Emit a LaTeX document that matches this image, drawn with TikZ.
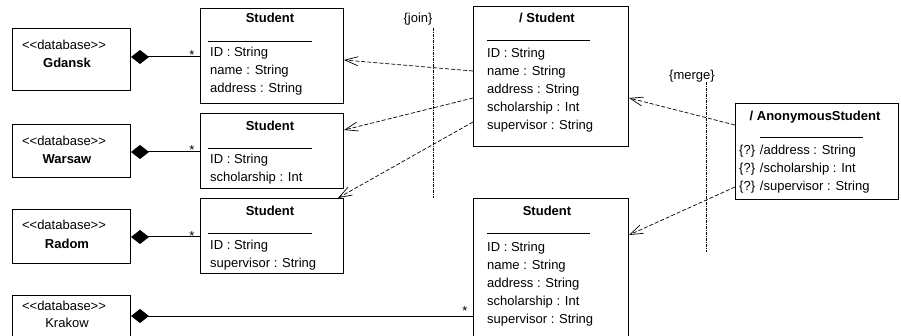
\documentclass[tikz,border=0pt]{standalone}
\usepackage{fontspec}
\setmainfont{Liberation Sans}
\usetikzlibrary{arrows.meta}
\newcommand\dbst{<\kern0pt<database>\kern0pt>}
\begin{document}
\begin{tikzpicture}[x=1pt,y=-1pt, font=\fontsize{13}{18}\selectfont,
  box/.style={draw, line width=1pt, inner sep=0pt, anchor=north west},
  ttl/.style={font=\fontsize{13}{18}\selectfont\bfseries, inner sep=0pt, anchor=base},
  txt/.style={inner sep=0pt, anchor=base},
  attrs/.style={inner sep=0pt, anchor=north west, align=left},
  sep/.style={line width=0.6pt},
  comp/.style={line width=1pt, {Diamond[length=18pt,width=14pt]}-},
  dep/.style={line width=0.7pt, dash pattern=on 4pt off 2pt, -{Straight Barb[length=13pt,width=9pt]}},
  cstr/.style={line width=0.6pt, dash pattern=on 3pt off 1pt on 1pt off 1pt},
  ]
\clip (0,0) rectangle (901,336);
% database boxes
\node[box, minimum width=118pt, minimum height=62pt] (g) at (12,28) {};
\node[box, minimum width=118pt, minimum height=53pt] (w) at (12,124) {};
\node[box, minimum width=118pt, minimum height=54pt] (r) at (12,209) {};
\node[box, minimum width=118pt, minimum height=70pt] (k) at (12,295) {};
\node[txt] (gst) at (64,49.7) {\dbst};
\node[ttl] (gnm) at (67,67.7) {Gdansk};
\node[txt] (wst) at (64,145.2) {\dbst};
\node[ttl] (wnm) at (67,163.2) {Warsaw};
\node[txt] (rst) at (64,229.7) {\dbst};
\node[ttl] (rnm) at (67,248.2) {Radom};
\node[txt] (kst) at (64,310.7) {\dbst};
\node[txt] (knm) at (67,327.7) {Krakow};
% student classes
\node[box, minimum width=143pt, minimum height=95pt] (s1) at (200,8) {};
\node[box, minimum width=143pt, minimum height=75pt] (s2) at (200,113) {};
\node[box, minimum width=143pt, minimum height=75pt] (s3) at (200,198) {};
\node[box, minimum width=155pt, minimum height=140pt] (ds) at (473,6) {};
\node[box, minimum width=155pt, minimum height=170pt] (sb) at (473,198) {};
\node[box, minimum width=163pt, minimum height=96pt] (an) at (735,103) {};
\node[ttl] (s1t) at (270,22.7) {Student};
\node[ttl] (s2t) at (270,130.7) {Student};
\node[ttl] (s3t) at (270,215.7) {Student};
\node[ttl] (dst) at (547,22.7) {/ Student};
\node[ttl] (sbt) at (547,215.7) {Student};
\node[ttl] (ant) at (815,120.7) {/ AnonymousStudent};
\draw[sep] (208,41) -- (312,41);
\draw[sep] (208,148) -- (312,148);
\draw[sep] (208,233) -- (312,233);
\draw[sep] (487,40) -- (590,40);
\draw[sep] (487,233) -- (590,233);
\draw[sep] (760,137) -- (863,137);
\node[attrs] (s1a) at (210,47.3) {ID : String\\name : String\\address : String};
\node[attrs] (s2a) at (210,154.3) {ID : String\\scholarship : Int};
\node[attrs] (s3a) at (210,240.3) {ID : String\\supervisor : String};
\node[attrs] (dsa) at (487,48.3) {ID : String\\name : String\\address : String\\scholarship : Int\\supervisor : String};
\node[attrs] (sba) at (487,242.3) {ID : String\\name : String\\address : String\\scholarship : Int\\supervisor : String};
\node[attrs] (ana) at (739,145.3) {\{?\} /address : String\\\{?\} /scholarship : Int\\\{?\} /supervisor : String};
% compositions
\coordinate (gc) at ([yshift=-29pt]g.north east);
\coordinate (wc) at ([yshift=-28pt]w.north east);
\coordinate (rc) at ([yshift=-28pt]r.north east);
\coordinate (kc) at ([yshift=-21pt]k.north east);
\draw[comp] (gc) -- (gc -| s1.west);
\draw[comp] (wc) -- (wc -| s2.west);
\draw[comp] (rc) -- (rc -| s3.west);
\draw[comp] (kc) -- (kc -| sb.west);
\node[txt] (m1) at (192,59.5) {*};
\node[txt] (m2) at (192,154.5) {*};
\node[txt] (m3) at (192,240.5) {*};
\node[txt] (m4) at (465,315.5) {*};
% dependencies
\draw[dep] ([yshift=-65pt]ds.north west) -- ([yshift=-52pt]s1.north east);
\draw[dep] ([yshift=-92pt]ds.north west) -- ([yshift=-17pt]s2.north east);
\draw[dep] ([yshift=-116pt]ds.north west) -- ([xshift=-6pt]s3.north east);
\draw[dep] ([yshift=-22pt]an.north west) -- ([yshift=-92pt]ds.north east);
\draw[dep] ([yshift=-84pt]an.north west) -- ([yshift=-37pt]sb.north east);
% constraints
\node[txt] (jn) at (418,22.5) {\{join\}};
\node[txt] (mg) at (692,79.5) {\{merge\}};
\coordinate (j1) at (433,28);
\coordinate (j2) at (433,198);
\coordinate (g1) at (706,82);
\coordinate (g2) at (706,252);
\draw[cstr] (j1) -- (j2);
\draw[cstr] (g1) -- (g2);
\end{tikzpicture}
\end{document}
